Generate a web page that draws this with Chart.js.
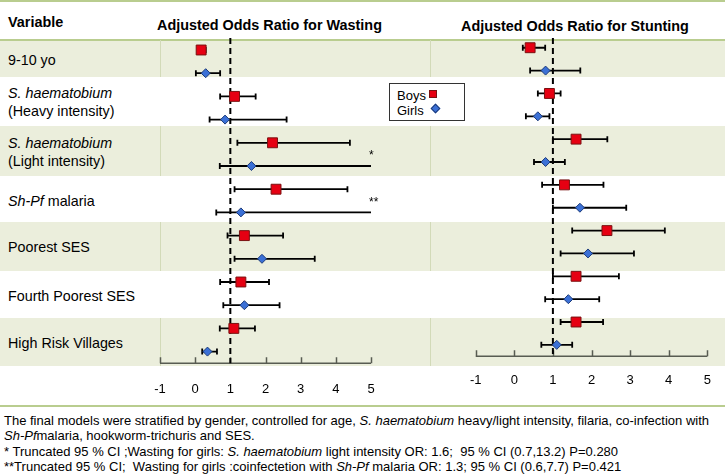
<!DOCTYPE html>
<html>
<head>
<meta charset="utf-8">
<script src="https://cdn.jsdelivr.net/npm/chart.js@4.4.1/dist/chart.umd.min.js"></script>
<style>
  body { margin: 0; background: #fff; }
  #wrap { position: relative; width: 725px; height: 476px; overflow: hidden; font-family: "Liberation Sans", Arial, sans-serif; color: #000; }
  .band { position: absolute; left: 0; width: 725px; background: #ebeedc; }
  .vline { position: absolute; width: 1px; background: #d2dab8; }
  .hline { position: absolute; left: 0; width: 725px; height: 2px; background: #b9cd8f; }
  .lbl { position: absolute; left: 8px; font-size: 14.3px; line-height: 18px; white-space: nowrap; }
  .ttl { position: absolute; font-weight: bold; font-size: 14.4px; line-height: 18px; white-space: nowrap; }
  canvas { position: absolute; top: 0; }
  #legend { position: absolute; left: 389px; top: 83px; width: 74px; height: 36px; border: 1px solid #333; background: #fff; font-size: 13px; line-height: 15px; z-index: 5; }
  #legend div { position: absolute; left: 7px; }
  .sq { position: absolute; width: 8px; height: 8px; background: #e60012; border: 1px solid #7a1111; box-sizing: border-box; }
  .dm { position: absolute; width: 7px; height: 7px; background: #3b70d6; border: 1px solid #1c3a78; box-sizing: border-box; transform: rotate(45deg); }
  #notes { position: absolute; left: 4px; top: 413px; font-family: "Liberation Sans Narrow", "Arial Narrow", "Liberation Sans", sans-serif; font-size: 13px; line-height: 15.3px; white-space: nowrap; }
</style>
</head>
<body>
<div id="wrap">
  <div class="hline" style="top:0"></div>
  <div class="hline" style="top:39px"></div>
  <div class="hline" style="top:405px"></div>
  <div class="ttl" style="left:8px;top:13px">Variable</div>
  <div class="ttl" id="t1" style="top:16px">Adjusted Odds Ratio for Wasting</div>
  <div class="ttl" id="t2" style="top:17px">Adjusted Odds Ratio for Stunting</div>
  <canvas id="wasting" width="401" height="406" style="left:0"></canvas>
  <canvas id="stunting" width="358" height="406" style="left:380px"></canvas>
  <div id="legend">
    <div style="top:4px">Boys</div><span class="sq" style="left:39px;top:6px"></span>
    <div style="top:19px">Girls</div><span class="dm" style="left:42px;top:21px"></span>
  </div>
  <div id="notes">
    <div>The final models were stratified by gender, controlled for age, <i>S. haematobium</i> heavy/light intensity, filaria, co-infection with</div>
    <div><i>Sh-Pf</i>malaria, hookworm-trichuris and SES.</div>
    <div>* Truncated 95 % CI ;Wasting for girls: <i>S. haematobium</i> light intensity OR: 1.6;&nbsp; 95 % CI (0.7,13.2) P=0.280</div>
    <div>**Truncated 95 % CI;&nbsp; Wasting for girls :coinfectetion with <i>Sh-Pf</i> malaria OR: 1.3; 95 % CI (0.6,7.7) P=0.421</div>
  </div>
</div>
<script>
// row labels (html for italics)
const variables = [
  '9-10 yo',
  '<i>S. haematobium</i><br>(Heavy intensity)',
  '<i>S. haematobium</i><br>(Light intensity)',
  '<i>Sh-Pf</i> malaria',
  'Poorest SES',
  'Fourth Poorest SES',
  'High Risk Villages'
];
const xTicks = [-1, 0, 1, 2, 3, 4, 5];

// wasting
const wastingBoys     = [0.17, 1.12, 2.2, 2.3, 1.4, 1.3, 1.1];
const wastingBoysLow  = [0.1, 0.71, 1.2, 1.12, 0.92, 0.71, 0.7];
const wastingBoysHigh = [0.3, 1.72, 4.4, 4.33, 2.5, 2.1, 1.7];
const wastingGirls     = [0.3, 0.85, 1.6, 1.3, 1.9, 1.4, 0.35];
const wastingGirlsLow  = [0.02, 0.41, 0.7, 0.6, 1.12, 0.8, 0.2];
const wastingGirlsHigh = [0.71, 2.6, 13.2, 7.7, 3.4, 2.4, 0.62];
const wastingGirlsNote = ['', '', '*', '**', '', '', ''];

// stunting
const stuntingBoys     = [0.41, 0.91, 1.6, 1.3, 2.4, 1.6, 1.6];
const stuntingBoysLow  = [0.22, 0.61, 1.0, 0.72, 1.5, 1.0, 1.2];
const stuntingBoysHigh = [0.8, 1.2, 2.41, 2.31, 3.9, 2.71, 2.3];
const stuntingGirls     = [0.81, 0.61, 0.81, 1.7, 1.91, 1.4, 1.1];
const stuntingGirlsLow  = [0.41, 0.3, 0.51, 1.0, 1.2, 0.8, 0.7];
const stuntingGirlsHigh = [1.71, 0.91, 1.31, 2.9, 3.1, 2.2, 1.5];

// background table
const wrap = document.getElementById('wrap');
const bandEdges = [[40, 77], [126, 176], [222, 271], [318, 366]];
bandEdges.forEach(([a, b]) => {
  const d = document.createElement('div');
  d.className = 'band';
  d.style.top = a + 'px';
  d.style.height = (b - a) + 'px';
  wrap.insertBefore(d, wrap.firstChild);
  [160, 430].forEach(x => {
    const v = document.createElement('div');
    v.className = 'vline';
    v.style.left = x + 'px';
    v.style.top = a + 'px';
    v.style.height = (b - a) + 'px';
    wrap.insertBefore(v, document.getElementById('wasting'));
  });
});

const labelCenters = [60, 102, 152, 201, 247, 296, 343];
variables.forEach((v, i) => {
  const d = document.createElement('div');
  d.className = 'lbl';
  d.innerHTML = v;
  wrap.insertBefore(d, document.getElementById('wasting'));
  d.style.top = (labelCenters[i] - d.offsetHeight / 2) + 'px';
});

const t1 = document.getElementById('t1');
t1.style.left = (269.5 - t1.offsetWidth / 2) + 'px';
const t2 = document.getElementById('t2');
t2.style.left = (575 - t2.offsetWidth / 2) + 'px';

const forestPlugin = {
  id: 'forest',
  beforeDatasetsDraw(chart) {
    const { ctx, chartArea, scales: { x } } = chart;
    const xmin = x.min, xmax = x.max;
    ctx.save();
    // axis with upward ticks
    const yb = chartArea.bottom;
    ctx.strokeStyle = '#585c52';
    ctx.lineWidth = 1.5;
    ctx.beginPath();
    ctx.moveTo(x.getPixelForValue(xmin), yb);
    ctx.lineTo(x.getPixelForValue(xmax), yb);
    xTicks.forEach(t => {
      const px = Math.round(x.getPixelForValue(t)) + 0.5;
      ctx.moveTo(px, yb);
      ctx.lineTo(px, yb - 6);
    });
    ctx.stroke();

    // reference line at OR = 1
    ctx.strokeStyle = '#000';
    ctx.lineWidth = 2;
    ctx.setLineDash([6, 4]);
    ctx.beginPath();
    const x1 = x.getPixelForValue(1);
    ctx.moveTo(x1, 38);
    ctx.lineTo(x1, yb);
    ctx.stroke();
    ctx.setLineDash([]);

    // confidence intervals
    ctx.lineWidth = 1.8;
    chart.data.datasets.forEach((ds, di) => {
      const meta = chart.getDatasetMeta(di);
      meta.data.forEach((pt, j) => {
        const lo = ds.low[j], hi = ds.high[j];
        const pl = x.getPixelForValue(Math.max(lo, xmin));
        const ph = x.getPixelForValue(Math.min(hi, xmax));
        const py = pt.y;
        ctx.beginPath();
        ctx.moveTo(pl, py);
        ctx.lineTo(ph, py);
        if (lo >= xmin) { ctx.moveTo(pl, py - 3); ctx.lineTo(pl, py + 3); }
        if (hi <= xmax) { ctx.moveTo(ph, py - 3); ctx.lineTo(ph, py + 3); }
        ctx.stroke();
        if (ds.notes && ds.notes[j]) {
          ctx.fillStyle = '#000';
          ctx.font = '12px "Liberation Sans", Arial';
          ctx.textAlign = 'left';
          ctx.textBaseline = 'middle';
          ctx.fillText(ds.notes[j], ph - 2, py - 10);
        }
      });
    });
    ctx.restore();
  }
};

function makeChart(id, boys, boysLow, boysHigh, girls, girlsLow, girlsHigh, girlsNote, pad, axisH, tickPad) {
  new Chart(document.getElementById(id), {
    type: 'scatter',
    data: {
      datasets: [
        {
          label: 'Boys',
          data: boys.map((v, i) => ({ x: v, y: i + 0.25 })),
          low: boysLow, high: boysHigh,
          pointStyle: 'rect', pointRadius: 7,
          backgroundColor: '#e60012', borderColor: '#7a1111', borderWidth: 1
        },
        {
          label: 'Girls',
          data: girls.map((v, i) => ({ x: v, y: i + 0.75 })),
          low: girlsLow, high: girlsHigh, notes: girlsNote,
          pointStyle: 'rectRot', pointRadius: 4.5,
          backgroundColor: '#3b70d6', borderColor: '#1c3a78', borderWidth: 1
        }
      ]
    },
    options: {
      responsive: false,
      animation: false,
      layout: { padding: pad },
      plugins: { legend: { display: false }, tooltip: { enabled: false } },
      scales: {
        x: {
          type: 'linear', min: -1, max: 5,
          grid: { display: false, drawTicks: false },
          border: { display: false },
          ticks: { stepSize: 1, color: '#000', padding: tickPad, font: { family: '"Liberation Sans", Arial', size: 13 } },
          afterFit(scale) { scale.height = axisH; }
        },
        y: { type: 'linear', min: 0, max: 7, reverse: true, display: false }
      }
    },
    plugins: [forestPlugin]
  });
}

makeChart('wasting', wastingBoys, wastingBoysLow, wastingBoysHigh,
  wastingGirls, wastingGirlsLow, wastingGirlsHigh, wastingGirlsNote,
  { left: 160, right: 30, top: 38.4, bottom: 12.8 }, 30, 18);
makeChart('stunting', stuntingBoys, stuntingBoysLow, stuntingBoysHigh,
  stuntingGirls, stuntingGirlsLow, stuntingGirlsHigh, [],
  { left: 95.7, right: 30.7, top: 36.3, bottom: 19.7 }, 30, 16);
</script>
</body>
</html>
